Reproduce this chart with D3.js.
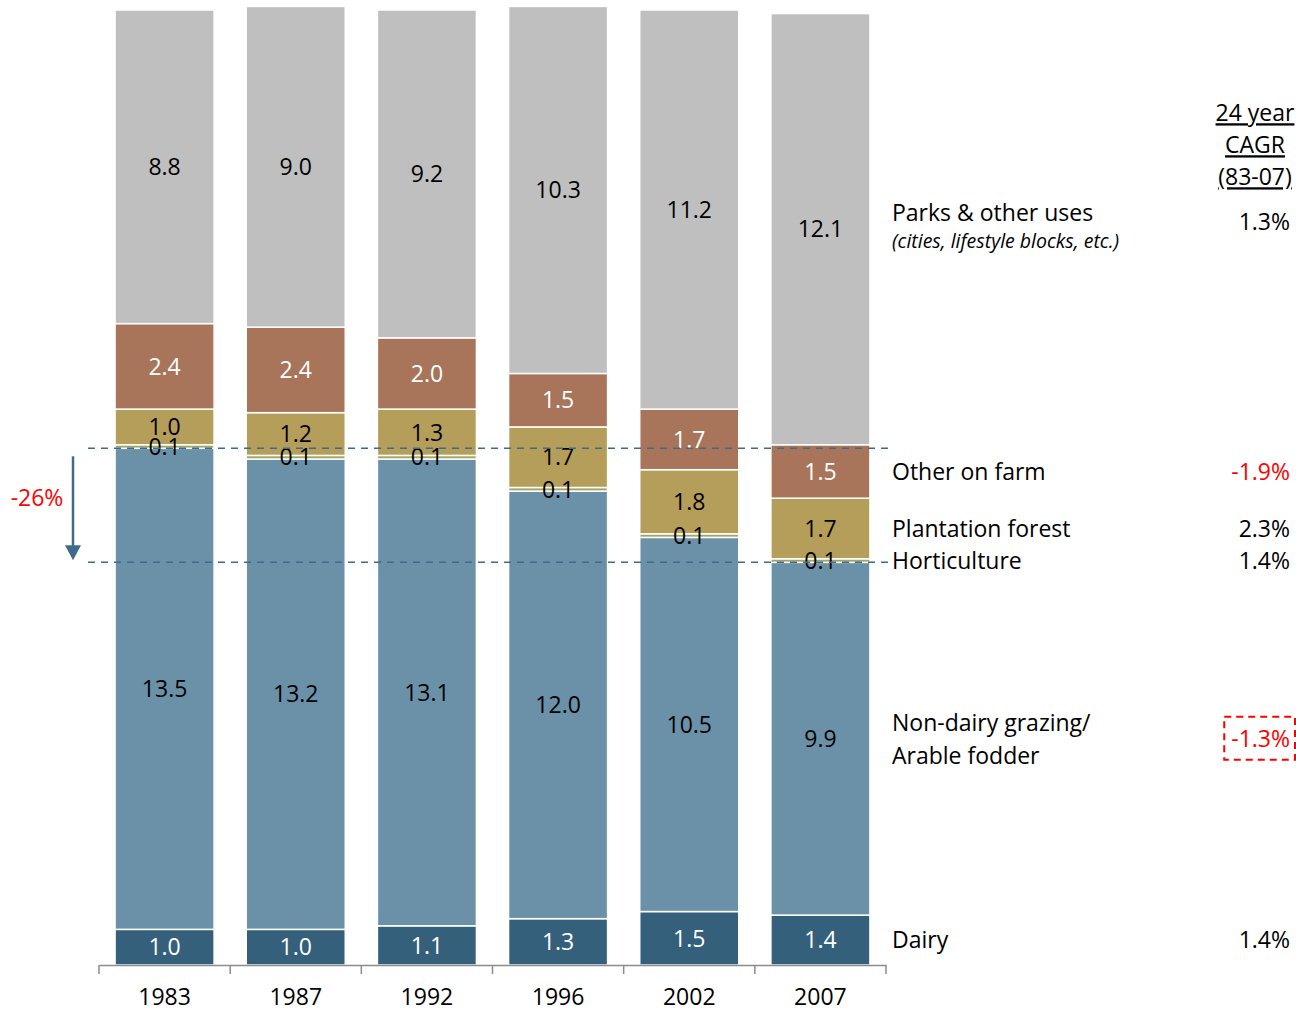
<!DOCTYPE html>
<html>
<head>
<meta charset="utf-8">
<script src="https://cdn.jsdelivr.net/npm/d3@7"></script>
<style>
  html, body { margin: 0; padding: 0; background: #fff; }
  svg { display: block; font-family: "Open Sans", Lato, sans-serif; }
</style>
</head>
<body>
<svg id="chart" width="1296" height="1011"></svg>
<script>
// Land use by year (million hectares), stacked bottom to top
const years        = ["1983", "1987", "1992", "1996", "2002", "2007"];
const dairy        = [1.0, 1.0, 1.1, 1.3, 1.5, 1.4];
const nonDairy     = [13.5, 13.2, 13.1, 12.0, 10.5, 9.9];
const horticulture = [0.1, 0.1, 0.1, 0.1, 0.1, 0.1];
const plantation   = [1.0, 1.2, 1.3, 1.7, 1.8, 1.7];
const otherFarm    = [2.4, 2.4, 2.0, 1.5, 1.7, 1.5];
const parks        = [8.8, 9.0, 9.2, 10.3, 11.2, 12.1];

// Series names, right-hand labels and 24-year CAGR
const seriesKeys   = ["dairy", "nonDairy", "horticulture", "plantation", "otherFarm", "parks"];
const seriesLabels = [["Dairy"], ["Non-dairy grazing/", "Arable fodder"], ["Horticulture"],
                      ["Plantation forest"], ["Other on farm"], ["Parks & other uses"]];
const cagr         = ["1.4%", "-1.3%", "1.4%", "2.3%", "-1.9%", "1.3%"];
const cagrHeader   = ["24 year", "CAGR", "(83-07)"];
const changeLabel  = "-26%";

const colors = {
  dairy: "#34607b", nonDairy: "#6b91a9", horticulture: "#a3a35c",
  plantation: "#b59d5a", otherFarm: "#a8755a", parks: "#bfbfbf"
};
const textColors = {
  dairy: "#fff", nonDairy: "#000", horticulture: "#000",
  plantation: "#000", otherFarm: "#fff", parks: "#000"
};

const FS = 23;   // main text size

const rows = years.map((y, i) => ({
  year: y, dairy: dairy[i], nonDairy: nonDairy[i], horticulture: horticulture[i],
  plantation: plantation[i], otherFarm: otherFarm[i], parks: parks[i]
}));

const svg = d3.select("#chart");
const x = d3.scaleBand().domain(years).range([99, 886]).paddingInner(0.245).paddingOuter(0.1225);
const y = d3.scaleLinear().domain([0, 26.8]).range([965, 10]);

const stacked = d3.stack().keys(seriesKeys)(rows);
const segments = stacked.flatMap(s => s.map(v => ({ key: s.key, v })));

// Bars
svg.append("g").selectAll("rect").data(segments).join("rect")
  .attr("x", d => x(d.v.data.year))
  .attr("width", x.bandwidth())
  .attr("y", d => y(d.v[1]))
  .attr("height", d => y(d.v[0]) - y(d.v[1]))
  .attr("fill", d => colors[d.key])
  .attr("stroke", "#fff").attr("stroke-width", 1.5);

// Value labels centred in each segment, drawn above all bars
svg.append("g").selectAll("text").data(segments).join("text")
  .attr("x", d => x(d.v.data.year) + x.bandwidth() / 2)
  .attr("y", d => (y(d.v[0]) + y(d.v[1])) / 2)
  .attr("dy", "0.36em")
  .attr("text-anchor", "middle")
  .attr("font-size", FS)
  .attr("fill", d => textColors[d.key])
  .text(d => (d.v[1] - d.v[0]).toFixed(1));

// Category axis with ticks between categories
const axisY = 965;
const axis = svg.append("g").attr("transform", `translate(0,${axisY})`)
  .call(d3.axisBottom(x).tickSize(0).tickPadding(24));
axis.select(".domain").attr("stroke", "#8c8c8c").attr("stroke-width", 1.5);
axis.selectAll(".tick text").attr("font-size", FS).attr("font-family", "'Open Sans', sans-serif").attr("fill", "#000");
const bounds = d3.range(years.length + 1).map(i => x.range()[0] + i * x.step());
svg.append("g").selectAll("line").data(bounds).join("line")
  .attr("x1", d => d).attr("x2", d => d)
  .attr("y1", axisY).attr("y2", axisY + 9)
  .attr("stroke", "#8c8c8c").attr("stroke-width", 1.5);

// Dashed reference lines: non-dairy level in 1983 vs 2007
const first = stacked[1][0][1], last = stacked[1][years.length - 1][1];
const refColor = "#3f6b8b";
svg.append("g").selectAll("line").data([first, last]).join("line")
  .attr("x1", 88).attr("x2", 890)
  .attr("y1", d => y(d)).attr("y2", d => y(d))
  .attr("stroke", refColor).attr("stroke-width", 1.5)
  .attr("stroke-dasharray", "7,6");

// Down arrow and change label
const ax = 73;
svg.append("line").attr("x1", ax).attr("x2", ax)
  .attr("y1", y(first) + 8).attr("y2", y(last) - 14)
  .attr("stroke", refColor).attr("stroke-width", 2.5);
svg.append("path")
  .attr("d", `M${ax - 8},${y(last) - 17} L${ax + 8},${y(last) - 17} L${ax},${y(last) - 2} Z`)
  .attr("fill", refColor);
svg.append("text").attr("x", 37).attr("y", y(first) + 49)
  .attr("dy", "0.36em").attr("text-anchor", "middle")
  .attr("font-size", FS).attr("fill", "#ff0000").text(changeLabel);

// Series labels aligned with the 2007 segments
const lastIdx = years.length - 1;
const labelX = 892, cagrX = 1290;
stacked.forEach((s, i) => {
  const cy = (y(s[lastIdx][0]) + y(s[lastIdx][1])) / 2;
  const lines = seriesLabels[i];
  let baseCy = cy;
  if (s.key === "parks") baseCy = cy - 16;
  lines.forEach((t, j) => {
    svg.append("text").attr("x", labelX)
      .attr("y", baseCy + (j - (lines.length - 1) / 2) * 33)
      .attr("dy", "0.36em").attr("font-size", FS).attr("fill", "#000").text(t);
  });
  if (s.key === "parks") {
    svg.append("text").attr("x", labelX).attr("y", baseCy + 28)
      .attr("dy", "0.36em").attr("font-size", 19.5).attr("font-style", "italic")
      .attr("fill", "#000").text("(cities, lifestyle blocks, etc.)");
  }
  const neg = cagr[i].startsWith("-");
  const cagrY = s.key === "parks" ? cy - 7 : cy;
  const t = svg.append("text").attr("x", cagrX).attr("y", cagrY)
    .attr("dy", "0.36em").attr("text-anchor", "end").attr("font-size", FS)
    .attr("fill", neg ? "#ff0000" : "#000").text(cagr[i]);
  if (s.key === "nonDairy") {
    const bb = t.node().getBBox();
    svg.append("rect").attr("x", bb.x - 7).attr("y", cagrY - 22)
      .attr("width", 1296 - bb.x + 7 - 1).attr("height", 43)
      .attr("fill", "none").attr("stroke", "#ff0000").attr("stroke-width", 2)
      .attr("stroke-dasharray", "7,5");
  }
});

// CAGR column header
cagrHeader.forEach((t, j) => {
  svg.append("text").attr("x", 1255).attr("y", 113 + j * 32)
    .attr("dy", "0.36em").attr("text-anchor", "middle").attr("font-size", FS)
    .attr("fill", "#000").attr("text-decoration", "underline").text(t);
});
</script>
</body>
</html>
